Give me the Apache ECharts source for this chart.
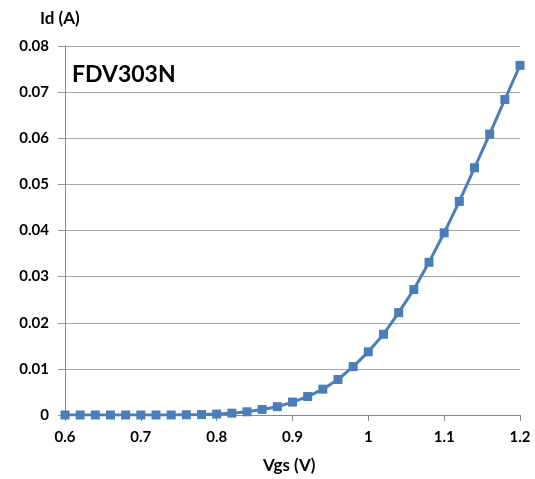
<!DOCTYPE html>
<html>
<head>
<meta charset="utf-8">
<script src="https://cdn.jsdelivr.net/npm/echarts@6/dist/echarts.min.js"></script>
<style>
html,body{margin:0;padding:0;background:#fff;}
#c{width:535px;height:479px;}
</style>
</head>
<body>
<div id="c"></div>
<script>
const vgs = [0.60,0.62,0.64,0.66,0.68,0.70,0.72,0.74,0.76,0.78,0.80,0.82,0.84,0.86,0.88,0.90,0.92,0.94,0.96,0.98,1.00,1.02,1.04,1.06,1.08,1.10,1.12,1.14,1.16,1.18,1.20];
const id = [0,0,0,0,0,0,0,0,0.00005,0.0001,0.0002,0.0004,0.0007,0.0012,0.0018,0.0028,0.0040,0.0056,0.0077,0.0105,0.0137,0.0175,0.0222,0.0272,0.0331,0.0395,0.0463,0.0536,0.0609,0.0684,0.0758];
const titleText = 'FDV303N';
const xName = 'Vgs (V)';
const yName = 'Id (A)';

const chart = echarts.init(document.getElementById('c'), null, {renderer:'canvas'});
const font = 'Lato, "Open Sans", sans-serif';
chart.setOption({
  animation:false,
  backgroundColor:'#fff',
  title:{text:titleText,left:67,top:58,textStyle:{fontFamily:font,fontWeight:'bold',fontSize:23,color:'#000'}},
  graphic:[{type:'text',left:40,top:10,style:{text:yName,font:'bold 17px Lato, "Open Sans", sans-serif',fill:'#000'}},
           {type:'text',left:263,top:457,style:{text:xName,font:'bold 17px Lato, "Open Sans", sans-serif',fill:'#000'}}],
  grid:{left:65,right:15,top:46,bottom:64,outerBoundsMode:'none',containLabel:false},
  xAxis:{type:'value',min:0.6,max:1.2,interval:0.1,
    axisLine:{show:true,lineStyle:{color:'#888',width:1}},
    axisTick:{show:true,length:6,lineStyle:{color:'#888'}},
    axisLabel:{fontFamily:font,fontWeight:'bold',fontSize:15,color:'#000',margin:15},
    splitLine:{show:false}},
  yAxis:{type:'value',min:0,max:0.08,interval:0.01,
    axisLine:{show:true,lineStyle:{color:'#888',width:1}},
    axisTick:{show:true,length:7,lineStyle:{color:'#999'}},
    axisLabel:{fontFamily:font,fontWeight:'bold',fontSize:15,color:'#000',margin:16},
    splitLine:{show:true,lineStyle:{color:'#a6a6a6',width:1}}},
  series:[{type:'line',data:vgs.map((v,i)=>[v,id[i]]),
    symbol:'rect',symbolSize:9,
    lineStyle:{color:'#4a7ebb',width:3},
    itemStyle:{color:'#4a7ebb'},smooth:false}]
});
</script>
</body>
</html>
